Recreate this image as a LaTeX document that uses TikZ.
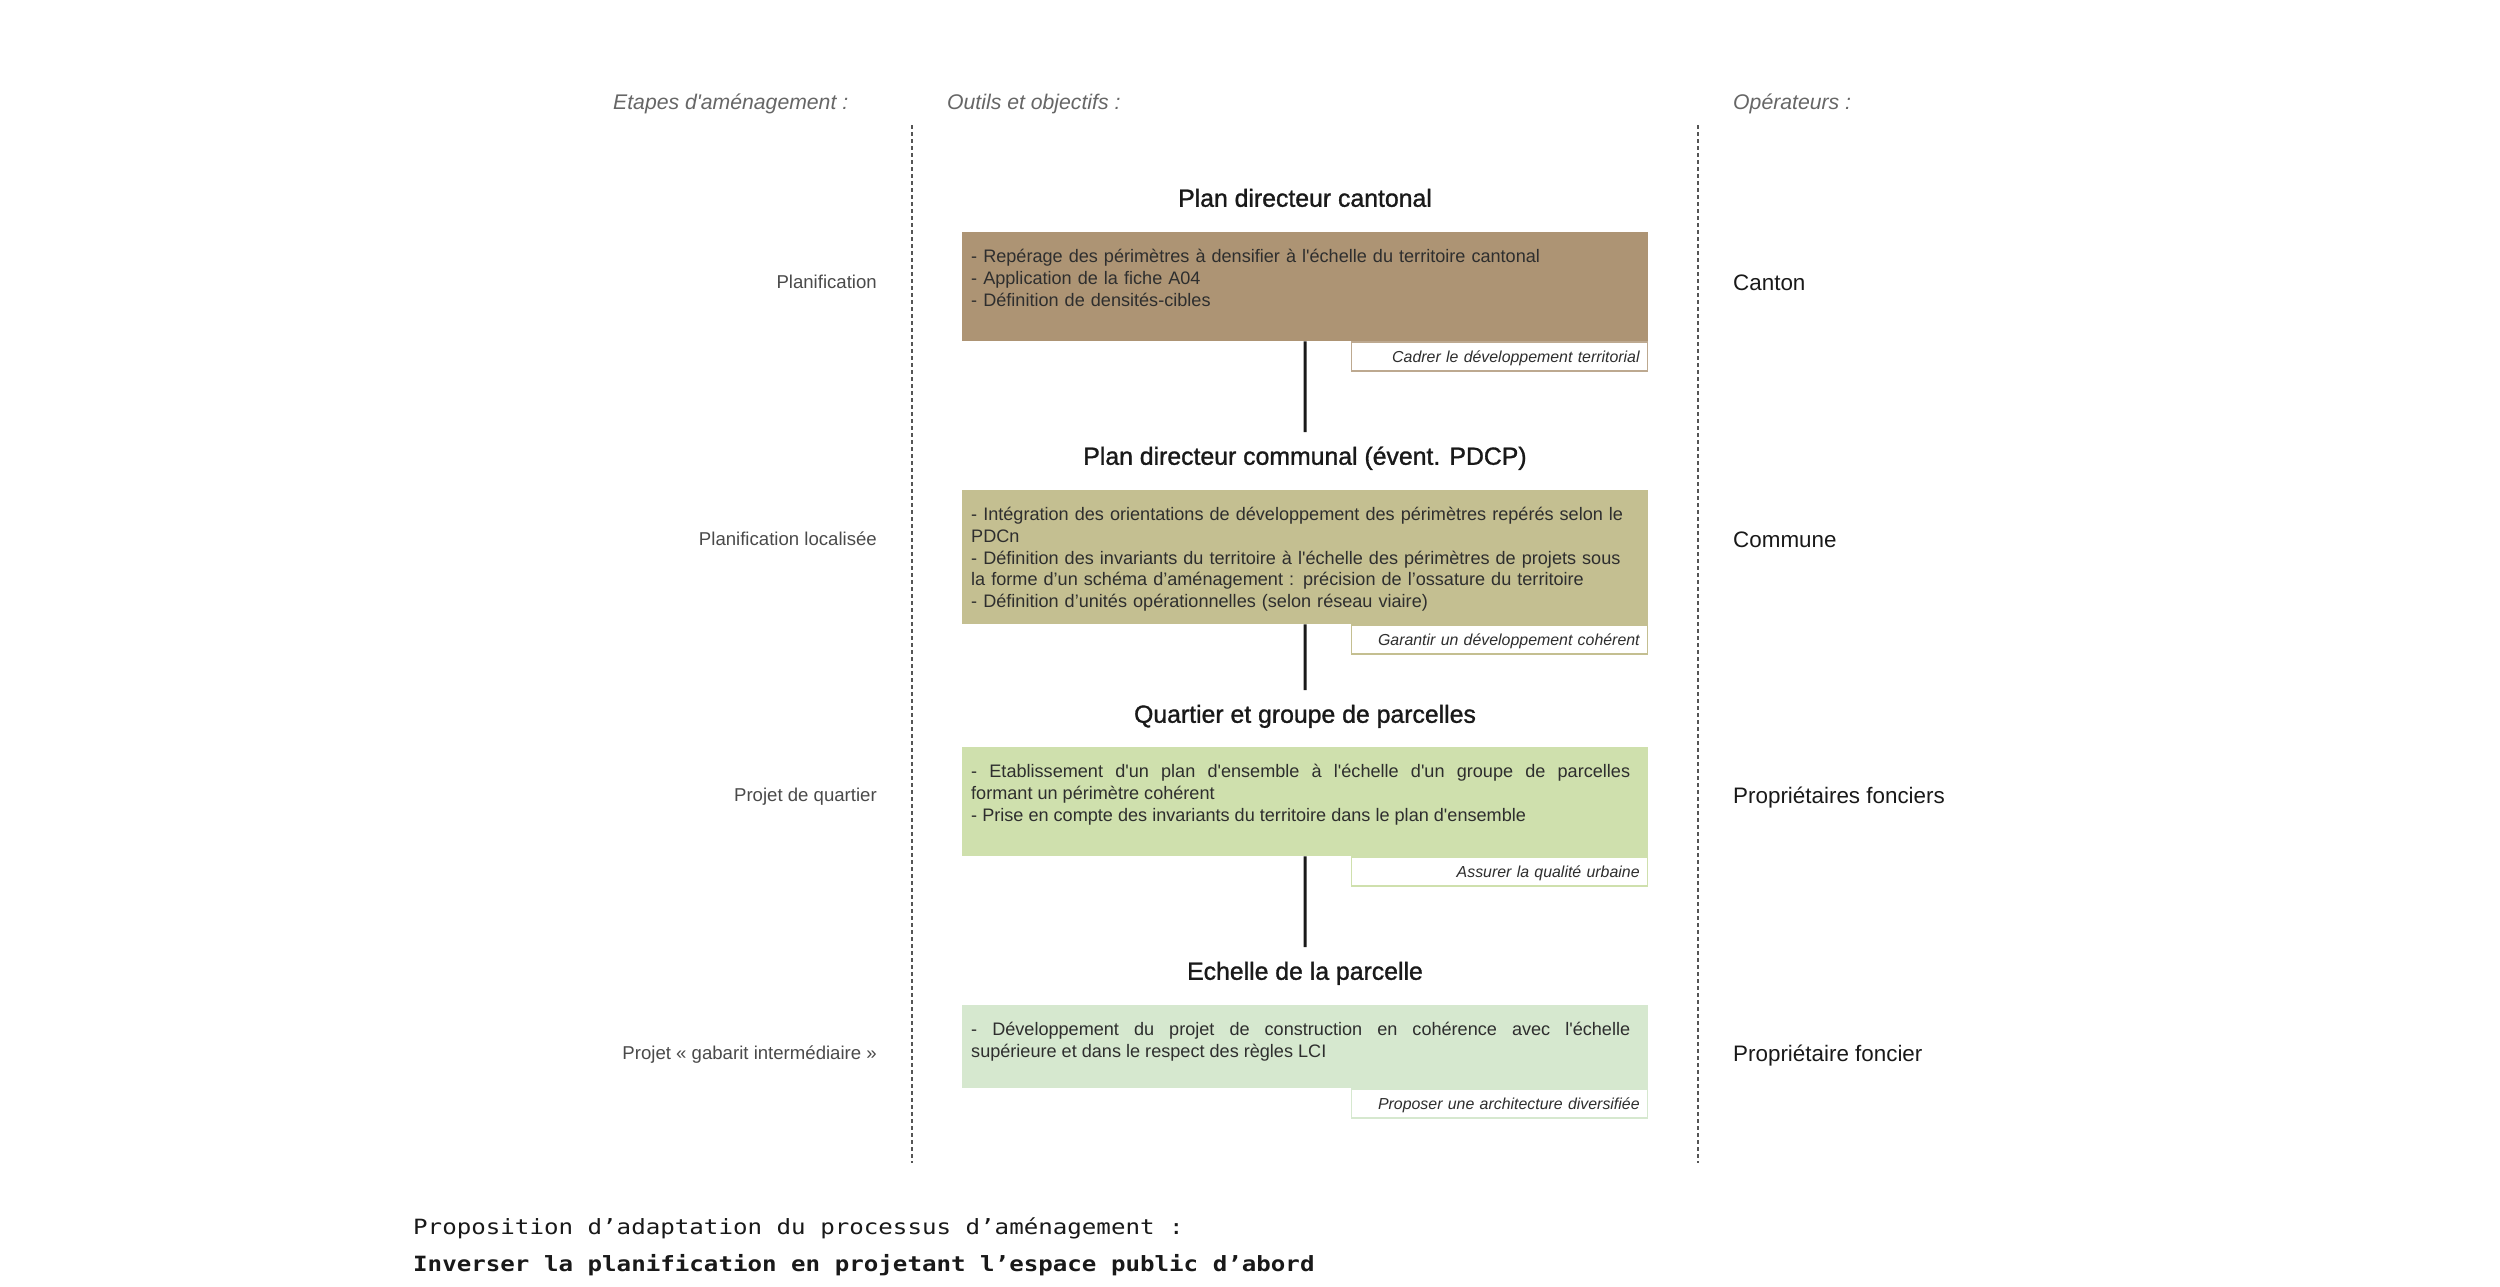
\documentclass[tikz,border=0pt]{standalone}
\usepackage{fontspec}
\setmainfont{Liberation Sans}
\newfontfamily\titlefont[FakeBold=1.2]{Liberation Sans}
\newfontfamily\plainfont[Ligatures=ResetAll]{Liberation Sans}
\newfontfamily\monofont[FakeStretch=1.15]{DejaVu Sans Mono}
\definecolor{cbrown}{HTML}{AD9474}
\definecolor{colive}{HTML}{C4BF91}
\definecolor{cgreen}{HTML}{CFE0AD}
\definecolor{cpale}{HTML}{D6E8CF}
\definecolor{ctext}{HTML}{2E2E2E}
\definecolor{cgray}{HTML}{4A4A4A}
\definecolor{chead}{HTML}{666666}
\definecolor{cdash}{HTML}{555555}
\tikzset{
  headtxt/.style={anchor=west, inner sep=0pt, text height=15.2pt, text depth=0pt,
    font=\itshape\fontsize{21.2}{25}\selectfont, text=chead},
  lefttxt/.style={anchor=east, inner sep=0pt, text height=13.3pt, text depth=0pt,
    font=\fontsize{18.6}{22}\selectfont, text=cgray},
  righttxt/.style={anchor=west, inner sep=0pt, text height=16pt, text depth=0pt,
    font=\fontsize{22.4}{26}\selectfont, text=black!90},
  titletxt/.style={anchor=center, inner xsep=0pt, inner ysep=15pt, text height=17.5pt, text depth=0pt,
    font=\titlefont\fontsize{24.8}{28}\selectfont, text=black!90},
  mainbox/.style={anchor=north west, inner sep=0pt, minimum width=686pt, draw=none},
  boxtxt/.style={anchor=north west, inner sep=0pt,
    font=\fontsize{18.1}{21.7}\selectfont, text=ctext},
  tagbox/.style={anchor=north east, fill=white, line width=1.5pt, inner xsep=8pt, inner ysep=0pt,
    minimum width=296pt, minimum height=29pt, text width=280pt, align=right,
    text height=11.4pt, text depth=0pt, font=\itshape\fontsize{15.9}{18}\selectfont, text=ctext},
  linkline/.style={line width=3pt, black!90},
  sepline/.style={line width=1.5pt, cdash, dash pattern=on 4pt off 3pt},
  monotxt/.style={anchor=west, inner sep=0pt, text height=15.3pt, text depth=0pt,
    font=\monofont\fontsize{21}{25}\selectfont, text=black!90}
}
\begin{document}
\begin{tikzpicture}[x=1pt, y=-1pt]
\useasboundingbox (0,0) rectangle (2500,1286);

% column headers
\node[headtxt] (h1) at (613,102) {Etapes d\textquotesingle aménagement :};
\node[headtxt] (h2) at (947,102) {Outils et objectifs :};
\node[headtxt] (h3) at (1733,102) {Opérateurs :};

% dashed separators
\coordinate (d1a) at (912,125);
\coordinate (d1b) at (912,1163);
\coordinate (d2a) at (1698,125);
\coordinate (d2b) at (1698,1163);
\draw[sepline] (d1a) -- (d1b);
\draw[sepline] (d2a) -- (d2b);

% left labels
\node[lefttxt] (l1) at (877,282) {Planification};
\node[lefttxt] (l2) at (877,539) {Planification localisée};
\node[lefttxt] (l3) at (877,795) {Projet de quartier};
\node[lefttxt] (l4) at (877,1053) {Projet « gabarit intermédiaire »};

% right labels
\node[righttxt] (r1) at (1733,282) {Canton};
\node[righttxt] (r2) at (1733,539) {Commune};
\node[righttxt] (r3) at (1733,795) {Propriétaires fonciers};
\node[righttxt] (r4) at (1733,1053) {Propriétaire foncier};

% titles
\node[titletxt] (t1) at (1305,198) {Plan directeur cantonal};
\node[titletxt] (t2) at (1305,456) {Plan directeur communal (évent. PDCP)};
\node[titletxt] (t3) at (1305,714) {Quartier et groupe de parcelles};
\node[titletxt] (t4) at (1305,971) {Echelle de la parcelle};

% main boxes
\node[mainbox, fill=cbrown, minimum height=109pt] (b1) at (962,232) {};
\node[mainbox, fill=colive, minimum height=134pt] (b2) at (962,490) {};
\node[mainbox, fill=cgreen, minimum height=109pt] (b3) at (962,747) {};
\node[mainbox, fill=cpale, minimum height=83pt] (b4) at (962,1005) {};

% box texts
\node[boxtxt, text width=700pt, align=left] (x1) at ([xshift=9pt,yshift=-15.4pt]b1.north west)
  {\strut- Repérage des périmètres à densifier à l\textquotesingle échelle du territoire cantonal\\
   - Application de la fiche A04\\
   - Définition de densités-cibles};
\node[boxtxt, text width=700pt, align=left] (x2) at ([xshift=9pt,yshift=-15.4pt]b2.north west)
  {\strut- Intégration des orientations de développement des périmètres repérés selon le\\
   PDCn\\
   - Définition des invariants du territoire à l\textquotesingle échelle des périmètres de projets sous\\
   la forme d’un schéma d’aménagement : précision de l’ossature du territoire\\
   - Définition d’unités opérationnelles (selon réseau viaire)};
\node[boxtxt, text width=659pt, align=justify] (x3) at ([xshift=9pt,yshift=-15.4pt]b3.north west)
  {\strut- Etablissement d\textquotesingle un plan d\textquotesingle ensemble à l\textquotesingle échelle d\textquotesingle un groupe de parcelles \linebreak
   formant un périmètre cohérent\\
   - Prise en compte des invariants du territoire dans le plan d\textquotesingle ensemble};
\node[boxtxt, text width=659pt, align=justify] (x4) at ([xshift=9pt,yshift=-15.4pt]b4.north west)
  {\strut- Développement du projet de construction en cohérence avec l\textquotesingle échelle \linebreak
   supérieure et dans le respect des règles LCI};

% objective tags
\node[tagbox, draw=cbrown!80] (g1) at (b1.south east) {Cadrer le développement territorial};
\node[tagbox, draw=colive] (g2) at (b2.south east) {Garantir un développement cohérent};
\node[tagbox, draw=cgreen] (g3) at (b3.south east) {Assurer la qualité urbaine};
\node[tagbox, draw=cpale] (g4) at (b4.south east) {Proposer une architecture diversifiée};

% connectors
\draw[linkline] (b1.south) -- (t2.north);
\draw[linkline] (b2.south) -- (t3.north);
\draw[linkline] (b3.south) -- (t4.north);

% caption
\node[monotxt] (c1) at (413,1227) {Proposition d’adaptation du processus d’aménagement :};
\node[monotxt, font=\monofont\bfseries\fontsize{21}{25}\selectfont] (c2) at (413,1264)
  {Inverser la planification en projetant l’espace public d’abord};
\end{tikzpicture}
\end{document}
